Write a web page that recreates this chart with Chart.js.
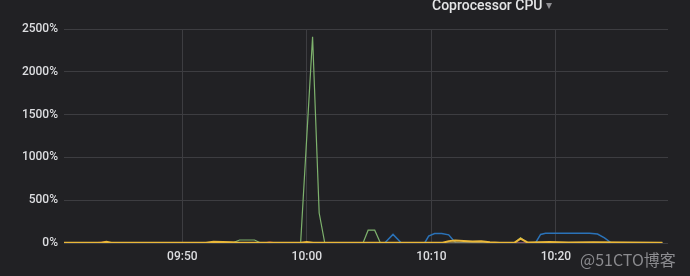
<!DOCTYPE html>
<html>
<head>
<meta charset="utf-8">
<script src="https://cdn.jsdelivr.net/npm/chart.js@4/dist/chart.umd.min.js"></script>
<style>
  html, body { margin: 0; padding: 0; background: #212124; overflow: hidden; }
  #wrap { position: relative; width: 690px; height: 276px; }
  #c { position: absolute; left: 0; top: 0; }
  #title { position: absolute; left: 432px; top: -3px; font: 500 14px Roboto, sans-serif; color: #e4e5e6; white-space: nowrap; }
  #caret { position: absolute; left: 546px; top: -2px; font: 12px "DejaVu Sans", sans-serif; color: #8e8e92; }
  #wm { position: absolute; left: 580px; top: 247px; font: 16px "Noto Sans CJK SC", sans-serif; color: #8a8a8e; white-space: nowrap; }
</style>
</head>
<body>
<div id="wrap">
  <canvas id="c" width="690" height="276"></canvas>
  <div id="title">Coprocessor CPU</div>
  <div id="caret">▾</div>
  <div id="wm">@51CTO博客</div>
</div>
<script>
// time in minutes after 09:00
const xMin = 40.5, xMax = 89.0;
const yTicks = [0, 500, 1000, 1500, 2000, 2500];

const greenTimes  = [40.5, 54.0, 54.6, 55.8, 56.3, 59.5, 60.46, 60.99, 61.44, 64.51, 64.92, 65.45, 65.91, 76.68, 77.16, 77.72, 88.55];
const greenValues = [0,    0,    35,   35,   0,    0,    2410,  350,   0,     0,     150,   150,   0,     0,     60,    0,     0];

const blueTimes  = [40.5, 66.25, 66.92, 67.59, 69.46, 69.78, 70.26, 70.83, 71.39, 71.71, 71.99, 78.36, 78.77, 79.17, 82.7, 83.34, 83.9, 84.46, 88.55];
const blueValues = [0,    0,     100,   0,     0,     80,    110,   112,   95,    40,    0,     0,     100,   113,   113,  105,   60,   0,     0];

const redTimes  = [40.5, 42.5, 43.9, 44.3, 56.5, 57.0, 57.6, 88.55];
const redValues = [0,    0,    12,   0,    0,    12,   0,    0];

const yellowTimes  = [40.5, 43.5, 43.9, 44.3, 51.9, 52.5, 54.0, 54.6, 59.5, 60.0, 60.5, 70.9, 71.4, 71.9, 72.6, 73.3, 74.0, 74.7, 75.5, 76.68, 77.16, 77.72, 79.5, 81.0, 83.0, 88.55];
const yellowValues = [3,    3,    14,   3,    3,    14,   10,   3,    3,    12,   3,    3,    22,   30,   24,   18,   20,   8,    4,    4,     50,    6,     12,   6,    8,    4];

function pts(ts, vs) { return ts.map((t, i) => ({ x: t, y: vs[i] })); }
function fmt(m) {
  const h = 9 + Math.floor(m / 60), mm = Math.round(m % 60);
  return String(h).padStart(2, '0') + ':' + String(mm).padStart(2, '0');
}

const gridColor = '#3d3d41';
new Chart(document.getElementById('c'), {
  type: 'line',
  data: {
    datasets: [
      { label: 'yellow', data: pts(yellowTimes, yellowValues), borderColor: '#eab839', borderWidth: 2, order: 0 },
      { label: 'green', data: pts(greenTimes, greenValues), borderColor: '#7eb26d', borderWidth: 1.2, order: 1 },
      { label: 'red', data: pts(redTimes, redValues), borderColor: '#e24d42', borderWidth: 1, order: 2 },
      { label: 'blue', data: pts(blueTimes, blueValues), borderColor: '#2a72b8', borderWidth: 1.5, order: 3 }
    ]
  },
  options: {
    responsive: false,
    animation: false,
    parsing: false,
    elements: { point: { radius: 0 }, line: { tension: 0, fill: false } },
    layout: { padding: { top: 29, right: 22, left: 0, bottom: 0 } },
    plugins: { legend: { display: false }, tooltip: { enabled: false }, title: { display: false } },
    scales: {
      x: {
        type: 'linear', min: xMin, max: xMax,
        afterBuildTicks: s => { s.ticks = s.ticks.filter(t => Math.abs(t.value % 10) < 1e-6); },
        afterFit: s => { s.height = 33; },
        ticks: { callback: v => fmt(v), color: '#dcdde0', font: { family: 'Roboto', size: 12, weight: '500' }, padding: 7, maxRotation: 0, autoSkip: false },
        grid: { color: gridColor, drawTicks: false },
        border: { display: false }
      },
      y: {
        min: 0, max: 2500,
        afterBuildTicks: s => { s.ticks = yTicks.map(v => ({ value: v })); },
        afterFit: s => { s.width = 64; },
        ticks: { callback: v => v + '%', color: '#dcdde0', font: { family: 'Roboto', size: 12, weight: '500' }, padding: 6 },
        grid: { color: gridColor, drawTicks: false },
        border: { display: false }
      }
    }
  }
});
</script>
</body>
</html>
